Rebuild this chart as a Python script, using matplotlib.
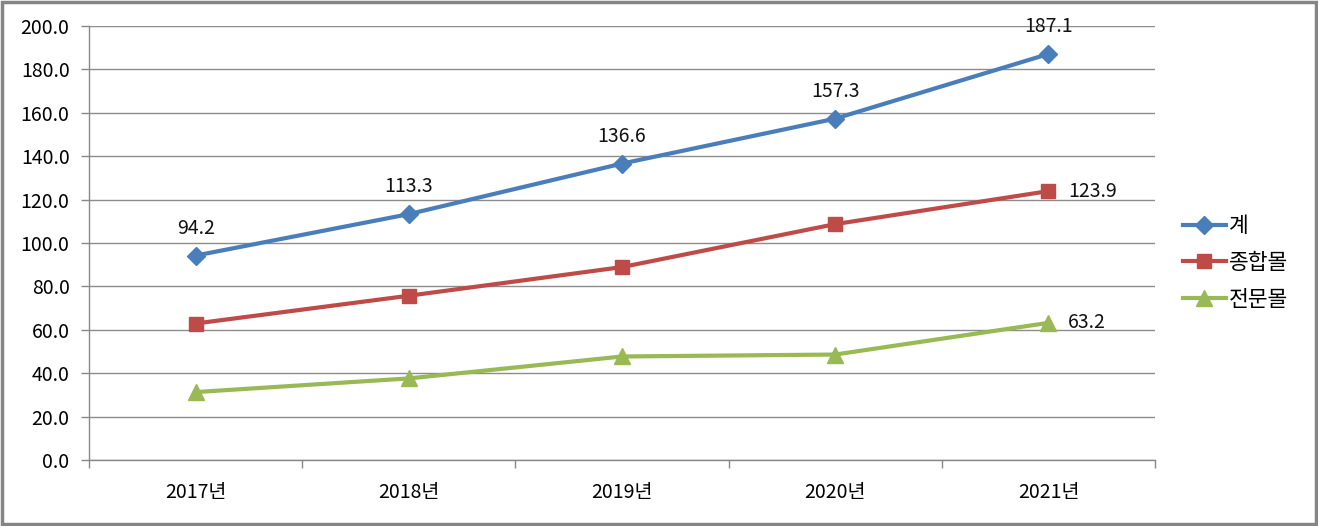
import matplotlib
matplotlib.use("Agg")
import matplotlib.pyplot as plt
from matplotlib.patches import Rectangle

plt.rcParams['font.family'] = ['Noto Sans CJK KR', 'DejaVu Sans']

categories = ['2017년', '2018년', '2019년', '2020년', '2021년']
total = [94.2, 113.3, 136.6, 157.3, 187.1]
general_mall = [62.9, 75.7, 88.9, 108.7, 123.9]
specialty_mall = [31.3, 37.6, 47.7, 48.6, 63.2]
series_names = ['계', '종합몰', '전문몰']
yticks = [0, 20, 40, 60, 80, 100, 120, 140, 160, 180, 200]

fig = plt.figure(figsize=(13.18, 5.26), dpi=100)
ax = fig.add_axes([89/1318, 66/526, (1155-89)/1318, (460-26)/526])

x = list(range(len(categories)))
ax.plot(x, total, color='#4A7EBB', lw=3, marker='D', ms=9, label=series_names[0], zorder=3)
ax.plot(x, general_mall, color='#BE4B48', lw=3, marker='s', ms=10, label=series_names[1], zorder=3)
ax.plot(x, specialty_mall, color='#98B954', lw=3, marker='^', ms=11, label=series_names[2], zorder=3)

fs = 14
for xi, v in zip(x, total):
    ax.annotate(f'{v:.1f}', (xi, v), xytext=(0, 12), textcoords='offset points',
                ha='center', va='bottom', fontsize=fs, color='#111111')
ax.annotate(f'{general_mall[-1]:.1f}', (x[-1], general_mall[-1]), xytext=(14, 0),
            textcoords='offset points', ha='left', va='center', fontsize=fs, color='#111111')
ax.annotate(f'{specialty_mall[-1]:.1f}', (x[-1], specialty_mall[-1]), xytext=(14, 0),
            textcoords='offset points', ha='left', va='center', fontsize=fs, color='#111111')

ax.set_xlim(-0.5, 4.5)
ax.set_ylim(0, 200)
ax.set_yticks(yticks)
ax.set_yticklabels([f'{v:.1f}' for v in yticks], fontsize=fs)
ax.set_xticks(x)
ax.set_xticklabels(categories, fontsize=fs)
ax.tick_params(axis='x', length=0, pad=16)
ax.set_xticks([i - 0.5 for i in range(len(categories) + 1)], minor=True)
ax.tick_params(axis='x', which='minor', length=6, color='#888888', width=1)
ax.tick_params(axis='y', length=6, color='#888888', width=1, pad=8)
ax.grid(axis='y', color='#8C8C8C', lw=1)
ax.set_axisbelow(True)
for s in ['top', 'right']:
    ax.spines[s].set_visible(False)
for s in ['left', 'bottom']:
    ax.spines[s].set_color('#888888')
    ax.spines[s].set_linewidth(1)

leg = fig.legend(loc='center left', bbox_to_anchor=(1174/1318, (526-263)/526),
                 frameon=False, fontsize=15.5, handlelength=2.0, labelspacing=0.68,
                 handletextpad=0.15, borderaxespad=0)

fig.patches.append(Rectangle((0.0015, 0.003), 0.997, 0.994, transform=fig.transFigure,
                             fill=False, edgecolor='#858585', lw=2.5))

fig.savefig('out.png', dpi=100)
